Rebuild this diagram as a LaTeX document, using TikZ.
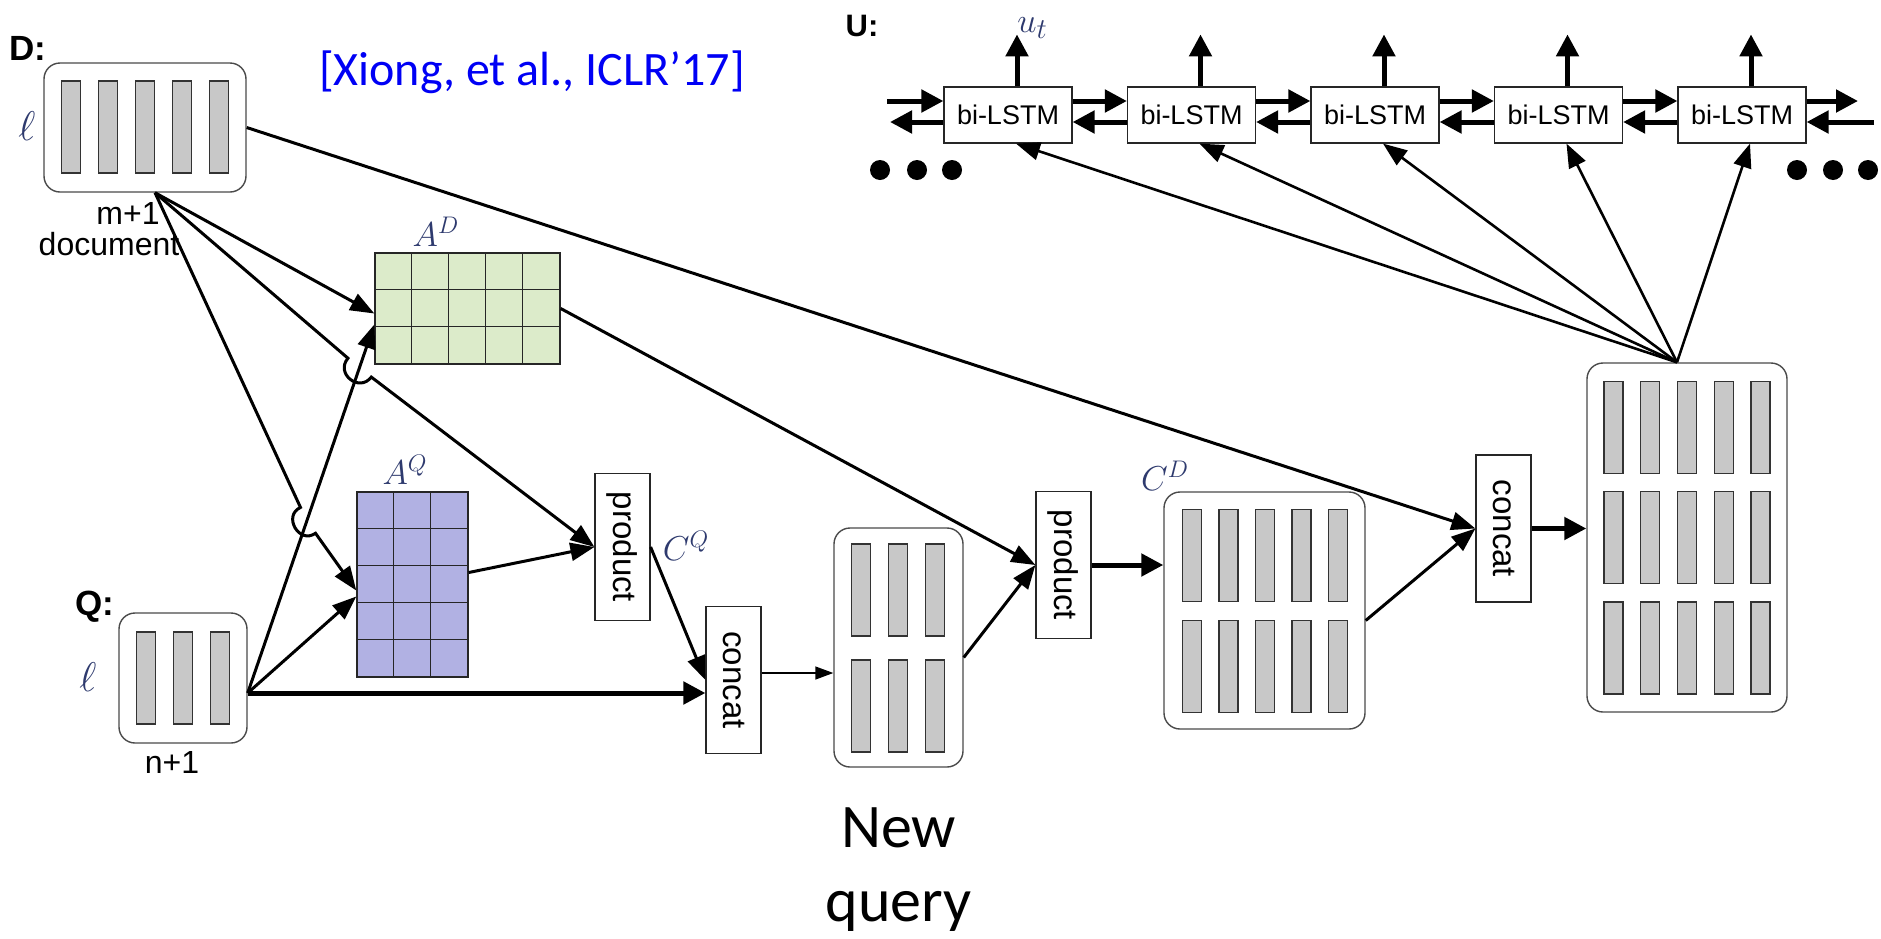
\documentclass[tikz,border=0pt]{standalone}
\usepackage{fontspec}
\setmainfont{Liberation Sans}
\newfontfamily\slidefont{Carlito}
\usetikzlibrary{arrows.meta,positioning,calc}
\definecolor{barc}{HTML}{C8C8C8}
\definecolor{edgec}{HTML}{4A4A4A}
\definecolor{adc}{HTML}{DCEBCA}
\definecolor{aqc}{HTML}{B1B1E3}
\definecolor{mathc}{HTML}{2E3A6E}
\definecolor{citec}{HTML}{0000F5}
\tikzset{
  >={Triangle[length=12pt,width=9pt]},
  vbox/.style={draw=edgec,line width=0.7pt,rounded corners=8pt,fill=white,inner sep=0pt},
  vbar/.style={draw=black!80,line width=0.6pt,fill=barc},
  mat/.style={draw=black!85,line width=0.7pt,inner sep=0pt},
  opbox/.style={draw=black!85,line width=0.6pt,fill=white,minimum width=27.5pt,minimum height=73.5pt,inner sep=0pt,font=\fontsize{16.5}{18}\selectfont},
  lstm/.style={draw=black!85,line width=0.6pt,fill=white,minimum width=64pt,minimum height=28pt,inner sep=0pt,font=\fontsize{13.5}{15}\selectfont},
  lbl/.style={font=\fontsize{16}{18}\selectfont,inner sep=0pt},
  hd/.style={font=\fontsize{17.5}{19}\selectfont\bfseries,inner sep=0pt},
  mlab/.style={text=mathc,font=\fontsize{17}{19}\selectfont,inner sep=0pt},
  arr/.style={->,line width=1.5pt},
  thk/.style={>={Triangle[length=11pt,width=11pt]},->,line width=2.5pt},
  thinarr/.style={>={Triangle[length=9pt,width=6.5pt]},->,line width=0.7pt},
}
\newcommand{\barrow}[4]{\foreach \k in {1,...,#1}
  \filldraw[vbar] ({#2+(\k-(#1+1)/2)*#4-9.5},{#3-46}) rectangle ++(19,92);}

\begin{document}
\begin{tikzpicture}[x=0.5pt,y=-0.5pt]
  \fill[white] (0,0) rectangle (1881,938);
  \useasboundingbox (0,0) rectangle (1881,938);
  \node[font=\slidefont\fontsize{24}{28}\selectfont,text=citec,inner sep=0pt] (cite) at (532,72) {[Xiong, et al., ICLR’17]};
  \node[vbox,minimum width=101pt,minimum height=64.5pt] (D) at (145,127.5) {};
  \barrow{5}{145}{127}{37}
  \node[hd] (dh) at (28,48) {D:};
  \node[mlab,font=\fontsize{22}{24}\selectfont] (dl) at (27,126) {$\ell$};
  \node[lbl] (dm) at (128,213) {m+1};
  \node[lbl] (dd) at (109,244) {document};
  \node[vbox,minimum width=64pt,minimum height=65pt] (Q) at (183,678) {};
  \barrow{3}{183}{678}{37}
  \node[hd] (qh) at (95,607) {Q:};
  \node[mlab,font=\fontsize{22}{24}\selectfont] (ql) at (88,677) {$\ell$};
  \node[lbl] (qn) at (172,762) {n+1};
  \node[mat,fill=adc,minimum width=92.5pt,minimum height=55.5pt] (AD) at (467.5,308.5) {};
  \foreach \k in {1,...,4} \draw[mat] ($(AD.north west)+(37*\k,0)$) -- ($(AD.south west)+(37*\k,0)$);
  \foreach \k in {1,2} \draw[mat] ($(AD.north west)+(0,37*\k)$) -- ($(AD.north east)+(0,37*\k)$);
  \node[mlab] (adl) at (436,232) {$A^D$};
  \node[mat,fill=aqc,minimum width=55.5pt,minimum height=92.5pt] (AQ) at (412.5,584.5) {};
  \foreach \k in {1,2} \draw[mat] ($(AQ.north west)+(37*\k,0)$) -- ($(AQ.south west)+(37*\k,0)$);
  \foreach \k in {1,...,4} \draw[mat] ($(AQ.north west)+(0,37*\k)$) -- ($(AQ.north east)+(0,37*\k)$);
  \node[mlab] (aql) at (405,470) {$A^Q$};
  \node[opbox] (P1) at (622.5,547) {\rotatebox{-90}{product}};
  \node[mlab] (cql) at (686,546) {$C^Q$};
  \node[opbox] (K1) at (733.5,680) {\rotatebox{-90}{concat}};
  \node[vbox,minimum width=64.5pt,minimum height=119.5pt] (NQ) at (898.5,647.5) {};
  \barrow{3}{898}{590}{37}
  \barrow{3}{898}{706}{37}
  \node[font=\slidefont\fontsize{31}{37}\selectfont,align=center,anchor=north,inner sep=0pt] (nql) at ([yshift=-20pt]NQ.south) {New\\query};
  \node[opbox] (P2) at (1063.5,565) {\rotatebox{-90}{product}};
  \node[vbox,minimum width=100.5pt,minimum height=118.5pt] (CD) at (1264.5,610.5) {};
  \barrow{5}{1265}{555.5}{36.5}
  \barrow{5}{1265}{666.5}{36.5}
  \node[mlab] (cdl) at (1165,476) {$C^D$};
  \node[opbox] (K2) at (1503.5,528.5) {\rotatebox{-90}{concat}};
  \node[vbox,minimum width=100pt,minimum height=174.5pt] (G) at (1687,537.5) {};
  \barrow{5}{1687}{427.5}{36.75}
  \barrow{5}{1687}{537.5}{36.75}
  \barrow{5}{1687}{648}{36.75}
  \node[hd,font=\fontsize{15.5}{17}\selectfont\bfseries] (uh) at (862,26) {U:};
  \foreach \i in {1,...,5} \node[lstm] (L\i) at ({1008+183.5*(\i-1)},115) {bi-LSTM};
  \coordinate (Dout) at ([xshift=5pt]D.south);
  \coordinate (Qout) at ([yshift=-7.5pt]Q.east);
  \coordinate (Gout) at ([xshift=-5pt]G.north);
  \coordinate (adq) at ([yshift=-8pt]AD.west);
  \coordinate (c1) at ($(Qout)!0.882!(adq)$);
  \coordinate (c2) at ($(Qout)!0.4667!(adq)$);
  \coordinate (j1a) at ($(c1)!7.5pt!(Dout)$);
  \coordinate (j1b) at ($(c1)!7.5pt!(P1.west)$);
  \coordinate (j2a) at ($(c2)!7.5pt!(Dout)$);
  \coordinate (j2b) at ($(c2)!7.5pt!([yshift=-3pt]AQ.west)$);
  \draw[arr] (Dout) -- ([yshift=-2.5pt]AD.west);
  \draw[arr] (Dout) -- (j1a) .. controls ($(j1a)!10pt!-90:(c1)$) and ($(j1b)!10pt!90:(c1)$) .. (j1b) -- (P1.west);
  \draw[arr] (Dout) -- (j2a) .. controls ($(j2a)!10pt!-90:(c2)$) and ($(j2b)!10pt!90:(c2)$) .. (j2b) -- ([yshift=-3pt]AQ.west);
  \draw[arr] (Qout) -- (adq);
  \draw[arr] (Qout) -- ([yshift=-6pt]AQ.west);
  \draw[thk] (Qout) -- (Qout -| K1.west);
  \draw[arr] ([yshift=6pt]AQ.east) -- (P1.west);
  \draw[arr] (P1.east) -- (K1.west);
  \draw[thinarr] ([yshift=3.5pt]K1.east) -- ([yshift=3.5pt]K1.east -| NQ.west);
  \draw[arr] ([yshift=-5pt]NQ.east) -- (P2.west);
  \draw[arr] (AD.east) -- (P2.west);
  \draw[thk] (P2.east) -- (P2.east -| CD.west);
  \draw[arr] (D.east) -- (K2.west);
  \draw[arr] ([yshift=-5pt]CD.east) -- (K2.west);
  \draw[thk] (K2.east) -- (K2.east -| G.west);
  \foreach \i in {1,...,5} {
    \coordinate (T\i) at ($(L\i.north)+(9,-52)$);
    \draw[thk] ([xshift=4.5pt]L\i.north) -- (T\i);
    \draw[arr,line width=1.3pt] (Gout) -- ([xshift=4pt]L\i.south);
  }
  \node[mlab,font=\fontsize{19}{21}\selectfont,anchor=base west] (ut) at ($(T1)+(0,-2)$) {$u_t$};
  \foreach \i/\j in {1/2,2/3,3/4,4/5} {
    \draw[thk] ([yshift=7pt]L\i.east) -- ([yshift=7pt]L\j.west);
    \draw[thk] ([yshift=-3.5pt]L\j.west) -- ([yshift=-3.5pt]L\i.east);
  }
  \coordinate (lin) at (887,101);
  \coordinate (lout) at (890,122);
  \coordinate (rout) at (1858,101);
  \coordinate (rin) at (1874,122);
  \draw[thk] (lin) -- (lin -| L1.west);
  \draw[thk] (lout -| L1.west) -- (lout);
  \draw[thk] (rout -| L5.east) -- (rout);
  \draw[thk] (rin) -- (rin -| L5.east);
  \foreach \x in {880,917,952,1797,1833,1868} \fill (\x,170) circle (5pt);
\end{tikzpicture}
\end{document}
